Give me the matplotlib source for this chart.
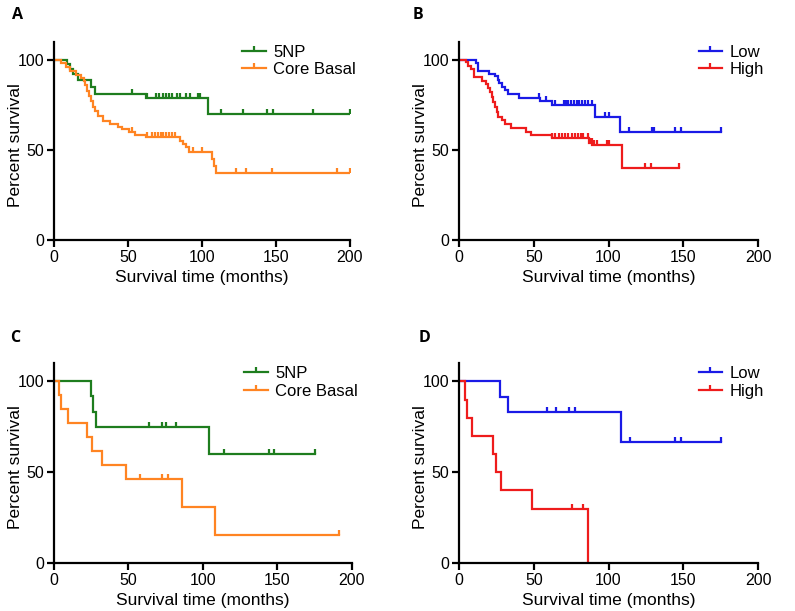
import numpy as np
import matplotlib.pyplot as plt
from matplotlib.lines import Line2D

plt.rcParams['font.family'] = ['Liberation Sans', 'DejaVu Sans']

# ---- panel A: 5NP vs Core Basal ----
a_np_t = [8.6, 11, 13, 16, 25, 28, 62, 104]
a_np_s = [97.5, 95, 92, 89, 85, 81, 79, 70]
a_np_end = 200
a_np_cens = [53, 62.6, 69, 71, 73.6, 76, 78, 80, 83, 85, 89, 92, 97, 99,
             113, 128, 144, 148, 175, 200]

a_cb_t = [4.5, 8, 11, 14.6, 18, 20, 21, 22.5, 23.6, 25, 26.6, 28, 30, 33, 38, 43, 46, 50.7,
          55, 62, 85, 87, 89, 91, 107, 108, 109.5]
a_cb_s = [98, 95.7, 93.5, 91.3, 90, 88.3, 86, 82.4, 79.6, 76.9, 74, 71.3, 68.5, 65.8, 64.3,
          62.6, 61.3, 60, 58.5, 57, 55, 53, 51.5, 49, 45, 41, 37]
a_cb_end = 200
a_cb_cens = [53, 63, 66, 68, 70, 72, 74, 76, 78, 80, 82, 94, 100, 123, 130, 147, 191, 200]

# ---- panel B: Low vs High ----
b_lo_t = [11.4, 13, 20, 24, 26, 27, 29, 31, 33, 40, 54, 62, 91, 108]
b_lo_s = [98, 94, 92, 91, 89, 87, 85, 83, 81, 79, 77, 75, 68, 60]
b_lo_end = 175
b_lo_cens = [53.5, 58, 64, 70, 71.3, 73, 75, 76.7, 78.7, 80.5, 82, 84, 86, 88.7,
             97.6, 100.5, 114, 128.8, 130.6, 144.5, 148.3, 175]

b_hi_t = [4.5, 6.2, 7.8, 10, 15.6, 17.8, 19.6, 20.7, 22.3, 23, 24, 25.2, 26.3, 28.5, 30.8,
          34.6, 45, 48, 62, 87, 89, 109]
b_hi_s = [98.5, 96.7, 94.8, 90.2, 88.4, 86.6, 84.1, 81.9, 79.2, 76.4, 73.7, 70.9, 68.2,
          66.3, 64.5, 62, 60, 58, 56.5, 54, 52.5, 39.7]
b_hi_end = 147
b_hi_cens = [62.4, 64, 66.9, 68.7, 71, 73, 75.8, 77.6, 79.4, 81.4, 83,
             86.5, 87.6, 88.7, 90.3, 92, 98.8, 100.3, 124.4, 128.2, 147]

# ---- panel C: 5NP vs Core Basal ----
c_np_t = [24.6, 26.4, 28, 104]
c_np_s = [92, 83, 75, 60]
c_np_end = 175
c_np_cens = [63.8, 72.7, 75, 81.7, 114, 144, 147.7, 175]

c_cb_t = [3.6, 4.5, 9.6, 22.4, 25.3, 32, 48.3, 86, 108]
c_cb_s = [92.3, 84.6, 76.9, 69.2, 61.5, 53.8, 46.2, 30.8, 15.4]
c_cb_end = 191
c_cb_cens = [57.7, 72.7, 76.7, 191]

# ---- panel D: Low vs High ----
d_lo_t = [27.3, 33, 108.5]
d_lo_s = [91.7, 83.3, 66.7]
d_lo_end = 175
d_lo_cens = [58.6, 64.6, 73.6, 77.6, 114.6, 144.5, 148.3, 175]

d_hi_t = [4, 5.3, 9, 23, 25, 28, 48.6, 86.5]
d_hi_s = [90, 80, 70, 60, 50, 40, 30, 0]
d_hi_end = 86.5
d_hi_cens = [75.4, 82.7]

green = '#1e7d1e'
orange = '#ff8422'
blue = '#1a1ae6'
red = '#ee1c1c'

tick_marker = [(0, 0), (0, 1)]


def km(ax, times, levels, end, cens, color):
    x = np.array([0] + list(times) + [end])
    y = np.array([100] + list(levels) + [levels[-1]])
    ax.plot(x, y, drawstyle='steps-post', color=color, lw=1.6, solid_joinstyle='miter')
    cx = np.array(cens)
    idx = np.searchsorted(np.array(times), cx, side='right')
    cy = np.array([100] + list(levels))[idx]
    ax.plot(cx, cy, ls='none', marker=tick_marker, ms=7, mew=1.6, color=color)


def style(ax):
    ax.set_xlim(0, 200)
    ax.set_ylim(0, 110)
    ax.set_xticks([0, 50, 100, 150, 200])
    ax.set_yticks([0, 50, 100])
    for sp in ['top', 'right']:
        ax.spines[sp].set_visible(False)
    for sp in ['left', 'bottom']:
        ax.spines[sp].set_linewidth(1.6)
    ax.tick_params(width=1.6, length=5, labelsize=11.5, pad=2)
    ax.set_xlabel('Survival time (months)', fontsize=12.5, labelpad=4)
    ax.set_ylabel('Percent survival', fontsize=12.5)
    ax.yaxis.set_label_coords(-0.105, 0.48)


def legend(ax, labels, colors):
    handles = [Line2D([], [], color=c, lw=1.6, marker=tick_marker, ms=7, mew=1.6)
               for c in colors]
    ax.legend(handles, labels, loc='upper right', bbox_to_anchor=(1.02, 0.985),
              frameon=False, fontsize=12, handlelength=1.4, handletextpad=0.45,
              labelspacing=0.15, borderpad=0, borderaxespad=0)


fig = plt.figure(figsize=(7.95, 6.11), dpi=100)
axA = fig.add_axes([0.0679, 0.6072, 0.3723, 0.3246])
axB = fig.add_axes([0.5774, 0.6072, 0.3761, 0.3246])
axC = fig.add_axes([0.0679, 0.0786, 0.3748, 0.3268])
axD = fig.add_axes([0.5774, 0.0786, 0.3761, 0.3268])

km(axA, a_np_t, a_np_s, a_np_end, a_np_cens, green)
km(axA, a_cb_t, a_cb_s, a_cb_end, a_cb_cens, orange)
km(axB, b_lo_t, b_lo_s, b_lo_end, b_lo_cens, blue)
km(axB, b_hi_t, b_hi_s, b_hi_end, b_hi_cens, red)
km(axC, c_np_t, c_np_s, c_np_end, c_np_cens, green)
km(axC, c_cb_t, c_cb_s, c_cb_end, c_cb_cens, orange)
km(axD, d_lo_t, d_lo_s, d_lo_end, d_lo_cens, blue)
km(axD, d_hi_t, d_hi_s, d_hi_end, d_hi_cens, red)

for ax in [axA, axB, axC, axD]:
    style(ax)
legend(axA, ['5NP', 'Core Basal'], [green, orange])
legend(axB, ['Low', 'High'], [blue, red])
legend(axC, ['5NP', 'Core Basal'], [green, orange])
legend(axD, ['Low', 'High'], [blue, red])

for lab, x, y in [('A', 18, 15), ('B', 418, 15), ('C', 15, 338), ('D', 425, 338)]:
    fig.text(x / 795, 1 - y / 611, lab, fontsize=11.5, fontweight='bold',
             family=['Open Sans', 'DejaVu Sans'], ha='center', va='center')

fig.savefig('out.png', dpi=100)
